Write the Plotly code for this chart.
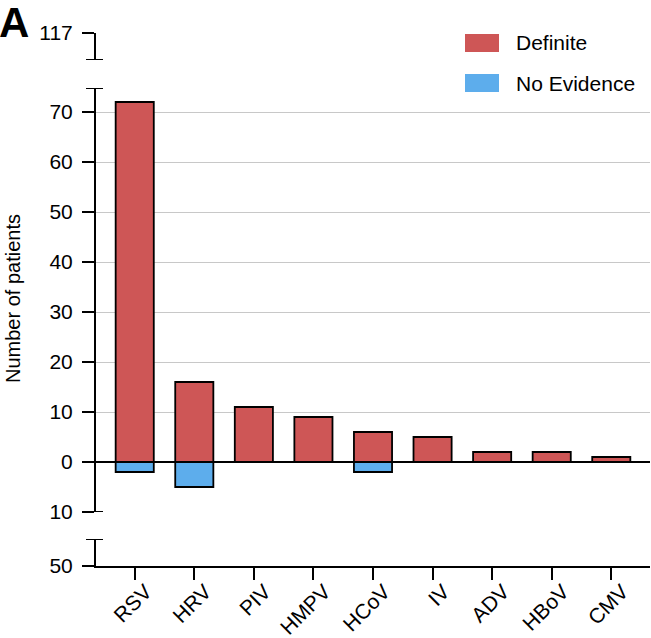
import plotly.graph_objects as go

categories = ["RSV", "HRV", "PIV", "HMPV", "HCoV", "IV", "ADV", "HBoV", "CMV"]
definite = [72, 16, 11, 9, 6, 5, 2, 2, 1]
no_evidence = [-2, -5, 0, 0, -2, 0, 0, 0, 0]
main_ticks = [-10, 0, 10, 20, 30, 40, 50, 60, 70]
main_ticklabels = ["10", "0", "10", "20", "30", "40", "50", "60", "70"]

RED = "#CE5656"
BLUE = "#5DADEC"
FONT = "Liberation Sans, Arial, sans-serif"
FS = 21

W, H = 651, 638
ML, MR, MT, MB = 96, 1, 33, 72
PW = W - ML - MR
PH = H - MT - MB

def fy(py):
    return (H - MB - py) / PH

def fx(px):
    return (px - ML) / PW

fig = go.Figure()
fig.add_trace(go.Bar(x=categories, y=definite, name="Definite", marker=dict(color=RED, line=dict(color="black", width=1.8)), width=0.64, showlegend=False))
fig.add_trace(go.Bar(x=categories, y=no_evidence, name="No Evidence", marker=dict(color=BLUE, line=dict(color="black", width=1.8)), width=0.64, showlegend=False))

main_top = -10 + (512 - 88) / 5.0
top_lo = 112.0
bot_hi = -45.0

axis_common = dict(showline=True, linecolor="black", linewidth=2, ticks="outside", ticklen=12, tickwidth=2,
                   tickcolor="black", tickfont=dict(size=FS, color="black", family=FONT), anchor="x",
                   ticklabelstandoff=5, automargin=False)

fig.update_layout(
    width=W, height=H,
    margin=dict(l=ML, r=MR, t=MT, b=MB, autoexpand=False),
    paper_bgcolor="white", plot_bgcolor="white",
    barmode="relative",
    font=dict(family=FONT, color="black"),
    xaxis=dict(anchor="y3", showline=True, linecolor="black", linewidth=2, ticks="outside", ticklen=12,
               tickwidth=2, tickcolor="black", tickangle=-45, tickfont=dict(size=FS, color="black", family=FONT),
               range=[-0.65, 8.65], showgrid=False, automargin=False,
               ticklabelshift=11, ticklabelstandoff=-9),
    yaxis=dict(domain=[fy(512), fy(88)], range=[-10, main_top], tickvals=main_ticks, ticktext=main_ticklabels,
               showgrid=True, gridcolor="#c8c8c8", gridwidth=1, zeroline=True, zerolinecolor="black",
               zerolinewidth=2, **axis_common),
    yaxis2=dict(domain=[fy(60), 1.0], range=[top_lo, 117], tickvals=[117], ticktext=["117"], showgrid=False,
                zeroline=False, **axis_common),
    yaxis3=dict(domain=[0, fy(539)], range=[-50, bot_hi], tickvals=[-50], ticktext=["50"], showgrid=False,
                zeroline=False, **axis_common),
)

cap = dict(type="line", xref="paper", x0=fx(86), x1=fx(103), line=dict(color="black", width=2))
fig.add_shape(yref="y", y0=main_top, y1=main_top, **cap)
fig.add_shape(yref="y", y0=-10, y1=-10, **cap)
fig.add_shape(yref="y2", y0=top_lo, y1=top_lo, **cap)
fig.add_shape(yref="y3", y0=bot_hi, y1=bot_hi, **cap)

# legend
for (name, col, y0, y1) in [("Definite", RED, 34, 52), ("No Evidence", BLUE, 74, 92)]:
    fig.add_shape(type="rect", xref="paper", yref="paper", x0=fx(465), x1=fx(499), y0=fy(y1), y1=fy(y0),
                  fillcolor=col, line=dict(width=0))
    fig.add_annotation(xref="paper", yref="paper", x=fx(514), y=fy((y0 + y1) / 2), text=name, showarrow=False,
                       xanchor="left", yanchor="middle", font=dict(size=FS, color="black", family=FONT))

fig.add_annotation(xref="paper", yref="paper", x=fx(13), y=fy(299), text="Number of patients", textangle=-90,
                   showarrow=False, xanchor="center", yanchor="middle", font=dict(size=20, color="black", family=FONT))
fig.add_annotation(xref="paper", yref="paper", x=fx(-3), y=fy(22), text="<b>A</b>", showarrow=False,
                   xanchor="left", yanchor="middle", font=dict(size=42, color="black", family=FONT))

fig.write_html("out.html")
